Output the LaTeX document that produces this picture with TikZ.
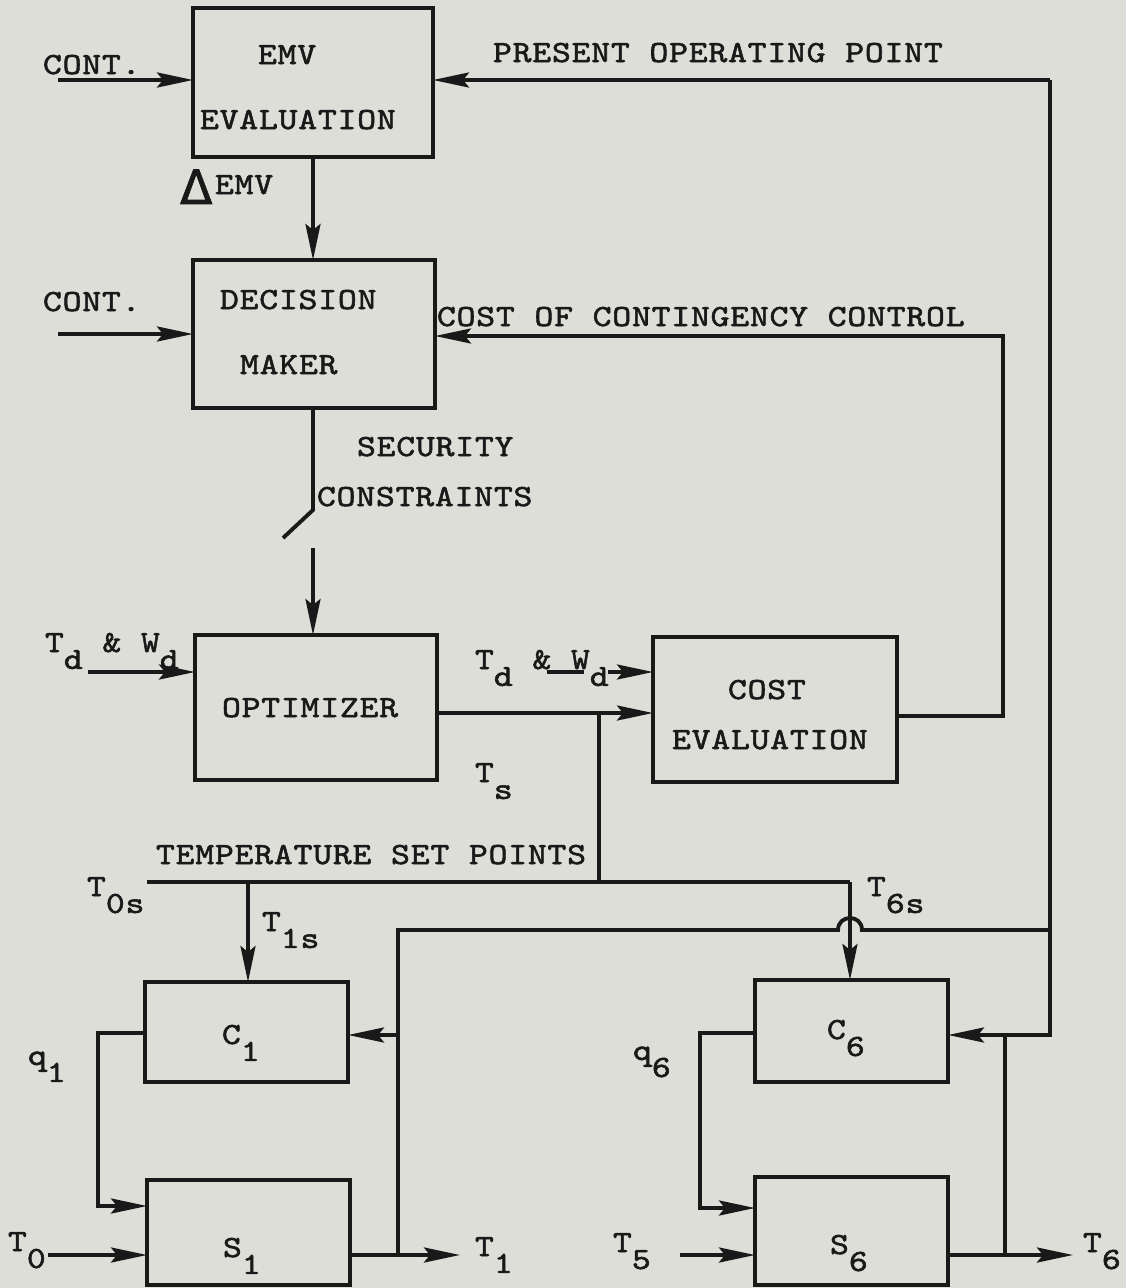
\documentclass[tikz,border=0pt]{standalone}
\usepackage{fontspec}
\newfontfamily\twf{lmmono10-regular.otf}[FakeStretch=1.17,LetterSpace=2.5,FakeBold=1.8]
\newfontfamily\dvs{DejaVu Sans}[FakeBold=1.5]
\usetikzlibrary{arrows.meta}
\definecolor{bg}{RGB}{221,222,216}
\definecolor{ink}{RGB}{25,25,25}
\newcommand\tw{\twf\fontsize{17.5pt}{21pt}\selectfont}
\newcommand\lo[1]{\raisebox{-0.55em}{#1}}
\begin{document}
\begin{tikzpicture}[x=0.02cm,y=-0.02cm,
  lbl/.style={anchor=base west,inner sep=0pt,outer sep=0pt,font=\tw,text=ink},
  blk/.style 2 args={draw=ink,line width=2.6pt,minimum width=#1*0.02cm,minimum height=#2*0.02cm,inner sep=0pt,outer sep=0pt},
  wire/.style={draw=ink,line width=2.2pt,line join=miter},
  arr/.style={wire,-{Stealth[length=0.72cm,width=0.3cm,inset=0.12cm]}}]
\fill[bg] (0,0) rectangle (1126,1288);
\useasboundingbox (0,0) rectangle (1126,1288);

% blocks
\node[blk={240}{149}] (emv) at (313,82.5) {};
\node[blk={242}{148}] (dm) at (314,334) {};
\node[blk={242}{145}] (opt) at (316,707.5) {};
\node[blk={244}{145}] (cost) at (775,709.5) {};
\node[blk={203}{100}] (c1) at (246.5,1032) {};
\node[blk={203}{105}] (s1) at (248.5,1232.5) {};
\node[blk={193}{102}] (c6) at (851.5,1031) {};
\node[blk={193}{108}] (s6) at (851.5,1231) {};

% texts
\node[lbl] (t-emv) at (258,64) {EMV};
\node[lbl] (t-emvev) at (200,129) {EVALUATION};
\node[lbl] (t-cont1) at (43,74) {CONT.};
\node[lbl] (t-pop) at (493,62) {PRESENT OPERATING POINT};
\node[lbl] (t-demv) at (180,194) {\raisebox{-0.2cm}{\dvs\fontsize{27pt}{27pt}\selectfont Δ}\hspace{0.05cm}EMV};
\node[lbl] (t-dec) at (220,309) {DECISION};
\node[lbl] (t-mak) at (240,374) {MAKER};
\node[lbl] (t-cont2) at (43,311) {CONT.};
\node[lbl] (t-cocc) at (437,326) {COST OF CONTINGENCY CONTROL};
\node[lbl] (t-sec) at (357,456) {SECURITY};
\node[lbl] (t-con) at (317,506) {CONSTRAINTS};
\node[lbl] (t-opt) at (222,717) {OPTIMIZER};
\node[lbl] (t-tdl) at (45,652) {T\lo{d} \&\ W\lo{d}};
\node[lbl] (t-tdr) at (475,669) {T\lo{d} \&\ W\lo{d}};
\node[lbl] (t-ts) at (475,782) {T\lo{s}};
\node[lbl] (t-cost) at (728,699) {COST};
\node[lbl] (t-costev) at (672,749) {EVALUATION};
\node[lbl] (t-tsp) at (156,864) {TEMPERATURE SET POINTS};
\node[lbl] (t-t0s) at (87,896) {T\lo{0s}};
\node[lbl] (t-t1s) at (262,931) {T\lo{1s}};
\node[lbl] (t-t6s) at (867,896) {T\lo{6s}};
\node[lbl] (t-c1) at (222,1044) {C\lo{1}};
\node[lbl] (t-q1) at (28,1065) {q\lo{1}};
\node[lbl] (t-s1) at (223,1257) {S\lo{1}};
\node[lbl] (t-t0) at (8,1251) {T\lo{0}};
\node[lbl] (t-t1) at (475,1256) {T\lo{1}};
\node[lbl] (t-c6) at (827,1039) {C\lo{6}};
\node[lbl] (t-q6) at (633,1060) {q\lo{6}};
\node[lbl] (t-s6) at (830,1254) {S\lo{6}};
\node[lbl] (t-t5) at (613,1252) {T\lo{5}};
\node[lbl] (t-t6) at (1083,1252) {T\lo{6}};

% coordinates
\coordinate (cont1) at (58,80);
\coordinate (popR) at (1050,80);
\coordinate (cont2) at (58,334);
\coordinate (cocR) at (1003,336);
\coordinate (costO) at (1003,716);
\coordinate (sw1) at (313,510);
\coordinate (sw2) at (283,538);
\coordinate (sw3) at (313,548);
\coordinate (tdl) at (88,672);
\coordinate (tdr1) at (547,672);
\coordinate (tdr2) at (584,672);
\coordinate (tdr3) at (608,672);
\coordinate (optO) at (599,713);
\coordinate (tspL) at (147,882);
\coordinate (tspJ) at (599,882);
\coordinate (tspR) at (850,882);
\coordinate (t1sJ) at (248,882);
\coordinate (fbJ) at (1050,930);
\coordinate (hopR) at (862,930);
\coordinate (hopL) at (838,930);
\coordinate (fb1) at (398,930);
\coordinate (fb1c) at (398,1035);
\coordinate (fb1b) at (398,1255);
\coordinate (c6fb) at (1050,1035);
\coordinate (fb6c) at (1005,1035);
\coordinate (fb6b) at (1005,1255);
\coordinate (q1a) at (98,1033);
\coordinate (q1b) at (98,1206);
\coordinate (t0) at (48,1255);
\coordinate (t1) at (460,1255);
\coordinate (q6a) at (700,1033);
\coordinate (q6b) at (700,1208);
\coordinate (t5) at (680,1255);
\coordinate (t6) at (1073,1255);

% connectors
\draw[arr] (cont1) -- (cont1 -| emv.west);
\draw[arr] (popR) -- (popR -| emv.east);
\draw[arr] (emv.south) -- (emv.south |- dm.north);
\draw[arr] (cont2) -- (cont2 -| dm.west);
\draw[arr] (costO -| cost.east) -- (costO) -- (cocR) -- (cocR -| dm.east);
\draw[wire] (sw1 |- dm.south) -- (sw1) -- (sw2);
\draw[arr] (sw3) -- (sw3 |- opt.north);
\draw[arr] (tdl) -- (tdl -| opt.west);
\draw[wire] (tdr1) -- (tdr2);
\draw[arr] (tdr3) -- (tdr3 -| cost.west);
\draw[arr] (optO -| opt.east) -- (optO -| cost.west);
\draw[wire] (optO) -- (tspJ);
\draw[wire] (tspL) -- (tspR);
\draw[arr] (t1sJ) -- (t1sJ |- c1.north);
\draw[arr] (tspR) -- (tspR |- c6.north);
\draw[arr] (popR) -- (c6fb) -- (c6fb -| c6.east);
\draw[wire] (fbJ) -- (hopR) .. controls (862,914) and (838,914) .. (hopL) -- (fb1) -- (fb1b);
\draw[arr] (fb1c) -- (fb1c -| c1.east);
\draw[wire] (fb6c) -- (fb6b);
\draw[arr] (q1a -| c1.west) -- (q1a) -- (q1b) -- (q1b -| s1.west);
\draw[arr] (t0) -- (t0 -| s1.west);
\draw[arr] (t1 -| s1.east) -- (t1);
\draw[arr] (q6a -| c6.west) -- (q6a) -- (q6b) -- (q6b -| s6.west);
\draw[arr] (t5) -- (t5 -| s6.west);
\draw[arr] (t6 -| s6.east) -- (t6);
\end{tikzpicture}
\end{document}
